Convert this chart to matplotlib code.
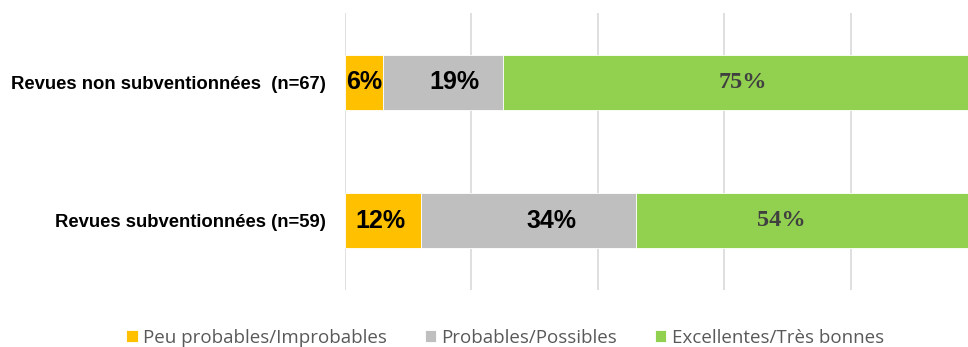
import matplotlib
matplotlib.use("Agg")
import matplotlib.pyplot as plt
import numpy as np

# Survey data: share of responses per journal group (percent)
categories = ["Revues subventionnées (n=59)", "Revues non subventionnées  (n=67)"]
series_names = ["Peu probables/Improbables", "Probables/Possibles", "Excellentes/Très bonnes"]
peu_probables = [12, 6]
probables = [34, 19]
excellentes = [54, 75]

colors = ["#FFC000", "#BFBFBF", "#92D050"]
# horizontal nudges (points) for the value labels
label_nudge = [[-2, 0], [17, 8], [-18, 2]]

fig = plt.figure(figsize=(9.68, 3.47), dpi=100)
px_per_pct = 6.32
x0 = 345 / 968
ax = fig.add_axes([x0, 1 - 290 / 347, 1 - x0, 277 / 347])

y = np.arange(len(categories))
series = [peu_probables, probables, excellentes]
left = np.zeros(len(categories))
bars = []
for name, vals, col in zip(series_names, series, colors):
    b = ax.barh(y, vals, left=left, height=0.4, color=col, label=name,
                edgecolor="white", linewidth=0.6, zorder=3)
    bars.append(b)
    left = left + np.array(vals)

# value labels
for si, (vals, b) in enumerate(zip(series, bars)):
    for ci, (v, rect) in enumerate(zip(vals, b)):
        cx = rect.get_x() + rect.get_width() / 2
        cy = rect.get_y() + rect.get_height() / 2
        if si < 2:
            kw = dict(fontsize=18, fontweight="bold", color="black",
                      family=["Liberation Sans"])
        else:
            kw = dict(fontsize=17.5, fontweight="bold", color="#404040",
                      family=["Liberation Serif"])
        ax.annotate(f"{v}%", (cx, cy), xytext=(label_nudge[si][ci], 0),
                    textcoords="offset points", ha="center", va="center",
                    zorder=4, **kw)

ax.set_xlim(0, (968 - 345) / px_per_pct)
ax.set_ylim(-0.5, 1.5)
ax.set_xticks([0, 20, 40, 60, 80])
ax.xaxis.grid(True, color="#D9D9D9", linewidth=1.2, zorder=0)
ax.tick_params(axis="x", length=0, labelbottom=False)
ax.tick_params(axis="y", length=0, pad=14)
ax.set_yticks(y)
ax.set_yticklabels(categories, fontsize=13.3, fontweight="bold",
                   family=["Liberation Sans"])
for s in ax.spines.values():
    s.set_visible(False)

leg = fig.legend(handles=bars, labels=series_names, loc="center",
                 bbox_to_anchor=(505 / 968, 1 - 338 / 347), ncol=3,
                 frameon=False, handlelength=0.6, handleheight=0.6,
                 handletextpad=0.3, columnspacing=2.0,
                 prop={"family": "Open Sans", "size": 13.5})
for t in leg.get_texts():
    t.set_color("#595959")

fig.savefig("out.png", dpi=100)
